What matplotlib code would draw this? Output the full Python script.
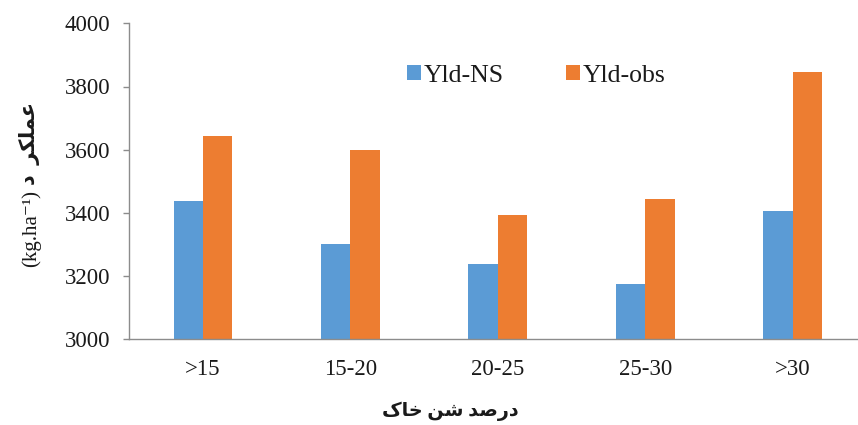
import matplotlib
matplotlib.use("Agg")
import matplotlib.pyplot as plt
import numpy as np

# Sand percentage classes and yield values (kg/ha)
categories = [">15", "15-20", "20-25", "25-30", ">30"]
yld_ns = [3439, 3303, 3239, 3174, 3406]
yld_obs = [3643, 3600, 3392, 3443, 3845]
series_names = ["Yld-NS", "Yld-obs"]
y_ticks = [3000, 3200, 3400, 3600, 3800, 4000]

# Persian labels, written in visual order with Arabic presentation forms
x_title = "\uFB8E\uFE8E\uFEA7 \uFEE6\uFEB7 \uFEAA\uFEBB\uFEAD\uFEA9"   # درصد شن خاک
y_title_fa = "\uFEA9  \uFEAE\uFB91\uFEE0\uFEE4\uFECB"                     # عملکرد
y_title_unit = "(kg.ha\u207B\u00B9)"

plt.rcParams['font.family'] = ['Liberation Serif', 'DejaVu Sans']

blue = "#5B9BD5"
orange = "#ED7D31"
text_color = "#1a1a1a"

fig = plt.figure(figsize=(8.58, 4.25), dpi=100)
ax = fig.add_axes([129.3 / 858, 85.7 / 425, 737 / 858, 316 / 425])

x = np.arange(len(categories))
w = 0.2
ax.bar(x - w / 2, yld_ns, width=w, color=blue, label=series_names[0], zorder=2)
ax.bar(x + w / 2, yld_obs, width=w, color=orange, label=series_names[1], zorder=2)

ax.set_ylim(3000, 4000)
ax.set_xlim(-0.5, len(categories) - 0.5)
ax.set_yticks(y_ticks)
ax.set_xticks(x)
ax.set_xticklabels(categories)

for s in ["top", "right"]:
    ax.spines[s].set_visible(False)
for s in ["left", "bottom"]:
    ax.spines[s].set_color("#8c8c8c")
    ax.spines[s].set_linewidth(1.0)

ax.tick_params(axis="y", length=4.3, width=1.0, color="#8c8c8c", pad=9.5,
               labelsize=16.5, labelcolor=text_color)
ax.tick_params(axis="x", length=0, pad=14, labelsize=16.5, labelcolor=text_color)

# y-axis title: unit (bottom) and Persian word (top), rotated
fig.text(31 / 858, 1 - 267 / 425, y_title_unit, rotation=90, ha="center", va="bottom",
         fontsize=15, color=text_color)
fig.text(30 / 858, 1 - 102 / 425, y_title_fa, rotation=90, ha="center", va="top",
         fontsize=15, fontweight="bold", color=text_color)

fig.text(450 / 858, 1 - 411 / 425, x_title, ha="center", va="center",
         fontsize=13.8, fontweight="bold", color=text_color)

fig.legend(loc="center", bbox_to_anchor=(536 / 858, 1 - 75.5 / 425), ncol=2,
           frameon=False, fontsize=18.5, handlelength=0.55, handleheight=0.55,
           handletextpad=0.12, columnspacing=2.4, labelcolor=text_color)

fig.savefig("out.png", dpi=100)
